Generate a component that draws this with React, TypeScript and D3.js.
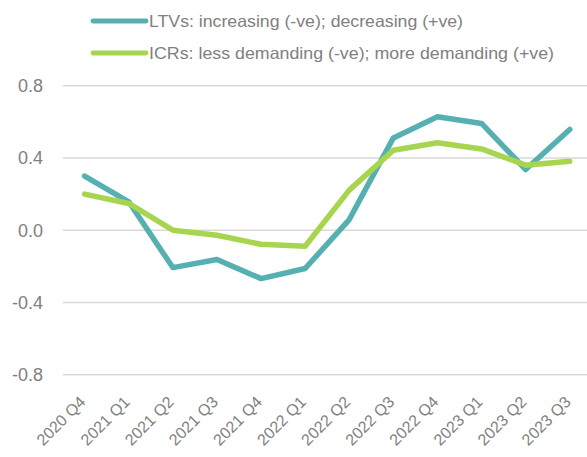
import React from "react";
import * as d3 from "d3";

const categories = [
  "2020 Q4", "2021 Q1", "2021 Q2", "2021 Q3", "2021 Q4", "2022 Q1",
  "2022 Q2", "2022 Q3", "2022 Q4", "2023 Q1", "2023 Q2", "2023 Q3",
];
const ltvValues = [0.3, 0.157, -0.207, -0.162, -0.268, -0.212, 0.059, 0.511, 0.628, 0.591, 0.336, 0.558];
const icrValues = [0.2, 0.148, 0.0, -0.028, -0.078, -0.089, 0.222, 0.443, 0.484, 0.45, 0.36, 0.382];
const yTicks = [0.8, 0.4, 0.0, -0.4, -0.8];
const seriesNames = [
  "LTVs: increasing (-ve); decreasing (+ve)",
  "ICRs: less demanding (-ve); more demanding (+ve)",
];
const seriesColors = ["#56B0B1", "#A8D54F"];
const legendWidths = [314, 405];

const W = 587;
const H = 457;
const FONT = "'Liberation Sans', Arial, sans-serif";
const TEXT = "#808080";

export default function App() {
  const x = d3.scaleBand<string>().domain(categories).range([62.6, 591.8]);
  const cx = (c: string) => (x(c) as number) + x.bandwidth() / 2;
  const y = d3.scaleLinear().domain([-0.8, 0.8]).range([374.7, 85.7]);
  const line = d3
    .line<number>()
    .x((_, i) => cx(categories[i]))
    .y((d) => y(d));
  const series = [ltvValues, icrValues];

  return (
    <svg
      width={W}
      height={H}
      style={{ position: "absolute", left: 0, top: 0, display: "block", background: "#fff" }}
    >
      {yTicks.map((t) => (
        <g key={t}>
          <line x1={63} x2={587} y1={y(t)} y2={y(t)} stroke="#d9d9d9" strokeWidth={1.4} />
          <text
            x={43}
            y={y(t)}
            dy="0.36em"
            textAnchor="end"
            fontFamily={FONT}
            fontSize={18}
            fill={TEXT}
          >
            {t.toFixed(1)}
          </text>
        </g>
      ))}
      {categories.map((c) => (
        <text
          key={c}
          transform={`translate(${cx(c) + 2},${403}) rotate(-45)`}
          textAnchor="end"
          fontFamily={FONT}
          fontSize={16}
          fill={TEXT}
        >
          {c}
        </text>
      ))}
      {series.map((s, i) => (
        <path
          key={i}
          d={line(s) as string}
          fill="none"
          stroke={seriesColors[i]}
          strokeWidth={5.5}
          strokeLinecap="round"
          strokeLinejoin="round"
        />
      ))}
      {seriesNames.map((n, i) => (
        <g key={n} transform={`translate(0,${21 + i * 32})`}>
          <line x1={93} x2={146} y1={0} y2={0} stroke={seriesColors[i]} strokeWidth={4.8} strokeLinecap="round" />
          <text
            x={149}
            y={0}
            dy="0.36em"
            fontFamily={FONT}
            fontSize={16.5}
            fill={TEXT}
            textLength={legendWidths[i]}
            lengthAdjust="spacingAndGlyphs"
          >
            {n}
          </text>
        </g>
      ))}
    </svg>
  );
}
